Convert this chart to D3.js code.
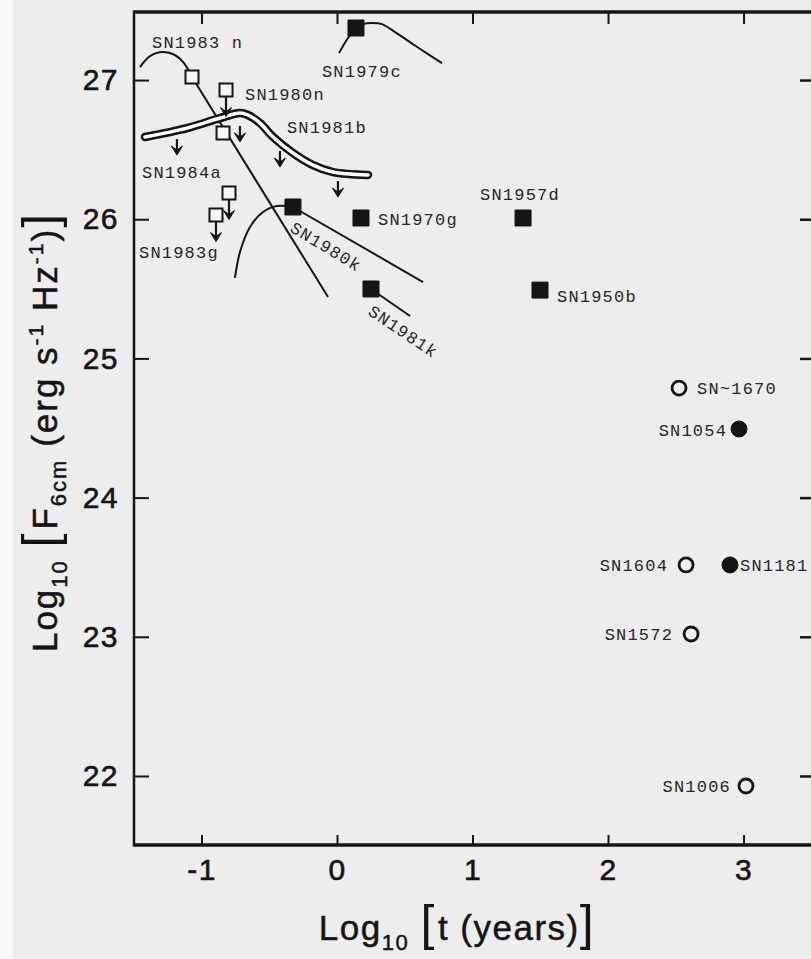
<!DOCTYPE html>
<html><head><meta charset="utf-8">
<script src="https://cdn.jsdelivr.net/npm/d3@7"></script>
<style>
html,body{margin:0;padding:0;background:#ededed;}
svg{display:block;}
</style></head><body>
<svg id="chart" width="811" height="959"></svg>
<script>
// Radio luminosity at 6 cm of supernovae and young remnants versus age

// Individual measurements (log10 age in years, log10 luminosity)
const pointName = ["SN1979c","SN1983n","SN1983n","SN1980n","SN1984a","SN1983g","SN1980k","SN1981k","SN1970g","SN1957d","SN1950b","SN~1670","SN1054","SN1604","SN1181","SN1572","SN1006"];
const pointLogT = [0.140,-1.070,-0.841,-0.819,-0.797,-0.893,-0.325,0.251,0.177,1.373,1.498,2.524,2.967,2.576,2.900,2.613,3.018];
const pointLogF = [27.374,27.022,26.619,26.928,26.188,26.030,26.088,25.499,26.009,26.009,25.491,24.787,24.493,23.516,23.516,23.020,21.928];
const pointKind = ["II","I","I","I","I","I","II","II","II","II","II","shell","plerion","shell","plerion","shell","shell"];
const pointUpperLimit = [0,0,0,1,1,1,0,0,0,0,0,0,0,0,0,0,0];

// Light curves
const lc1979cT = [0.015,0.081,0.140,0.192,0.258,0.332,0.428,0.539,0.649,0.775];
const lc1979cF = [27.194,27.302,27.374,27.402,27.410,27.402,27.345,27.273,27.201,27.122];
const lc1983nT = [-1.454,-1.380,-1.284,-1.196,-1.129,-1.070];
const lc1983nF = [27.093,27.172,27.201,27.180,27.122,27.022];
const decay1983nT = [-1.070,-0.066];
const decay1983nF = [27.022,25.441];
const lc1980kT = [-0.753,-0.716,-0.642,-0.546,-0.443,-0.325];
const lc1980kF = [25.578,25.764,25.944,26.052,26.095,26.088];
const decay1980kT = [-0.325,0.635];
const decay1980kF = [26.088,25.549];
const decay1981kT = [0.251,0.539];
const decay1981kF = [25.499,25.305];

// SN1981b model band and its upper limits
const band1981bT = [-1.417,-1.107,-0.863,-0.716,-0.657,-0.568,-0.472,-0.325,-0.177,-0.030,0.229];
const band1981bF = [26.591,26.655,26.727,26.763,26.749,26.691,26.591,26.476,26.389,26.339,26.318];
const limit1981bT = [-1.181,-0.716,-0.421,0.007];
const limit1981bF = [26.576,26.670,26.490,26.274];

// Axis ticks
const xTicks = [-1,0,1,2,3];
const yTicks = [22,23,24,25,26,27];

// Label placement relative to each mark
const labelLayout = {
  "SN1979c": {dx:-34, dy:49},
  "SN1983n": {dx:-40, dy:-29, text:"SN1983 n"},
  "SN1980n": {dx:19, dy:10},
  "SN1984a": {dx:-87, dy:-15},
  "SN1983g": {dx:-77, dy:43},
  "SN1980k": {dx:-4, dy:24, rotate:31},
  "SN1981k": {dx:-4, dy:25, rotate:34},
  "SN1970g": {dx:17, dy:7},
  "SN1957d": {dx:-43, dy:-18},
  "SN1950b": {dx:17, dy:12},
  "SN~1670": {dx:18, dy:6},
  "SN1054": {dx:-12, dy:7, anchor:"end"},
  "SN1604": {dx:-18, dy:6, anchor:"end"},
  "SN1181": {dx:10, dy:6},
  "SN1572": {dx:-18, dy:6, anchor:"end"},
  "SN1006": {dx:-15, dy:6, anchor:"end"}
};

const W = 811, H = 959;
const ink = "#151515";
const paper = "#ededed";
const sansFont = "'Liberation Sans', Arial, Helvetica, sans-serif";
const monoFont = "'Liberation Mono', 'Courier New', monospace";

const svg = d3.select("#chart");
svg.append("rect").attr("width", W).attr("height", H).attr("fill", paper);
svg.append("rect").attr("width", 13).attr("height", H).attr("fill", "#f9f9f9");

const plotLeft = 134, plotRight = 814, plotTop = 12, plotBottom = 845;
const x = d3.scaleLinear().domain([-1.498, 3.52]).range([plotLeft, plotRight]);
const y = d3.scaleLinear().domain([21.504, 27.489]).range([plotBottom, plotTop]);

// Axes with inward ticks
function styleAxis(g, width) {
  g.select(".domain").remove();
  g.selectAll(".tick line").attr("stroke", ink).attr("stroke-width", width);
  g.selectAll(".tick text").attr("fill", ink).attr("font-family", sansFont)
    .attr("font-size", 30).attr("font-weight", "normal").attr("letter-spacing", 1.5)
    .attr("stroke", ink).attr("stroke-width", 0.6);
}
const gL = svg.append("g").attr("transform", `translate(${plotLeft},0)`)
  .call(d3.axisLeft(y).tickValues(yTicks).tickSize(-15).tickPadding(15).tickFormat(d => String(d)));
styleAxis(gL, 2);
const gB = svg.append("g").attr("transform", `translate(0,${plotBottom})`)
  .call(d3.axisBottom(x).tickValues(xTicks).tickSize(-10).tickPadding(14).tickFormat(d => String(d)));
styleAxis(gB, 2);
const gT = svg.append("g").attr("transform", `translate(0,${plotTop})`)
  .call(d3.axisTop(x).tickValues(xTicks).tickSize(-12).tickFormat(""));
styleAxis(gT, 2);
const gR = svg.append("g").attr("transform", `translate(${plotRight},0)`)
  .call(d3.axisRight(y).tickValues(yTicks).tickSize(-14).tickFormat(""));
styleAxis(gR, 2.5);

// Frame
svg.append("line").attr("x1", plotLeft).attr("x2", W + 5).attr("y1", plotTop).attr("y2", plotTop)
  .attr("stroke", ink).attr("stroke-width", 3.5);
svg.append("line").attr("x1", plotLeft).attr("x2", W + 5).attr("y1", plotBottom).attr("y2", plotBottom)
  .attr("stroke", ink).attr("stroke-width", 3.5);
svg.append("line").attr("x1", plotLeft).attr("x2", plotLeft).attr("y1", plotTop - 1.5).attr("y2", plotBottom + 1.5)
  .attr("stroke", ink).attr("stroke-width", 2.5);

const zip = (ts, fs) => ts.map((t, i) => [t, fs[i]]);
const smooth = d3.line().x(d => x(d[0])).y(d => y(d[1])).curve(d3.curveCatmullRom.alpha(0.5));
const straight = d3.line().x(d => x(d[0])).y(d => y(d[1]));

const plot = svg.append("g");

// Light curves and decay lines
[[lc1979cT, lc1979cF, smooth], [lc1983nT, lc1983nF, smooth], [decay1983nT, decay1983nF, straight],
 [lc1980kT, lc1980kF, smooth], [decay1980kT, decay1980kF, straight], [decay1981kT, decay1981kF, straight]]
  .forEach(([ts, fs, gen]) => {
    plot.append("path").attr("d", gen(zip(ts, fs)))
      .attr("fill", "none").attr("stroke", ink).attr("stroke-width", 2);
  });

// SN1981b band: outlined hollow tube
const bandPath = smooth(zip(band1981bT, band1981bF));
plot.append("path").attr("d", bandPath).attr("fill", "none")
  .attr("stroke", ink).attr("stroke-width", 8.5).attr("stroke-linecap", "round");
plot.append("path").attr("d", bandPath).attr("fill", "none")
  .attr("stroke", "#fbfbfb").attr("stroke-width", 3.5).attr("stroke-linecap", "round");

// Downward arrow for upper limits
function arrow(px, py, len) {
  const tip = py + len;
  plot.append("path").attr("d", `M${px},${py}V${tip - 4}`)
    .attr("stroke", ink).attr("stroke-width", 2.2).attr("fill", "none");
  plot.append("path")
    .attr("d", `M${px - 5.5},${tip - 9}L${px},${tip}L${px + 5.5},${tip - 9}L${px},${tip - 5}Z`)
    .attr("fill", ink).attr("stroke", ink).attr("stroke-width", 1);
}
limit1981bT.forEach((t, i) => arrow(x(t), y(limit1981bF[i]), 16));

// Markers
const sqSize = {I: 13, II: 16};
pointName.forEach((name, i) => {
  const px = x(pointLogT[i]), py = y(pointLogF[i]);
  const kind = pointKind[i];
  if (kind === "I" || kind === "II") {
    const s = sqSize[kind];
    if (pointUpperLimit[i]) arrow(px, py + s / 2, 20);
    plot.append("path")
      .attr("d", d3.symbol(d3.symbolSquare, s * s)())
      .attr("transform", `translate(${px},${py})`)
      .attr("fill", kind === "II" ? ink : "#f6f6f6")
      .attr("stroke", ink).attr("stroke-width", kind === "II" ? 1 : 2);
  } else {
    const open = kind === "shell";
    plot.append("circle").attr("cx", px).attr("cy", py)
      .attr("r", open ? 7 : 8)
      .attr("fill", open ? "none" : ink)
      .attr("stroke", ink).attr("stroke-width", open ? 2.8 : 1);
  }
});

// Typewritten labels
const labelG = svg.append("g").attr("font-family", monoFont).attr("font-size", 17)
  .attr("fill", "#262626").attr("letter-spacing", 1.2);
const seen = new Set();
pointName.forEach((name, i) => {
  if (seen.has(name)) return;
  seen.add(name);
  const L = labelLayout[name];
  const px = x(pointLogT[i]) + L.dx, py = y(pointLogF[i]) + L.dy;
  labelG.append("text")
    .attr("transform", `translate(${px},${py})` + (L.rotate ? ` rotate(${L.rotate})` : ""))
    .attr("text-anchor", L.anchor || "start")
    .text(L.text || name);
});
labelG.append("text")
  .attr("x", x(band1981bT[3]) + 47).attr("y", y(band1981bF[3]) + 20)
  .text("SN1981b");

// Axis titles
const xTitle = svg.append("text").attr("x", 457).attr("y", 940)
  .attr("text-anchor", "middle").attr("font-family", sansFont).attr("font-size", 35)
  .attr("letter-spacing", 1.5)
  .attr("fill", ink).attr("stroke", ink).attr("stroke-width", 0.5);
xTitle.append("tspan").text("Log");
xTitle.append("tspan").attr("font-size", 22).attr("dy", 10).text("10");
xTitle.append("tspan").attr("dy", -10).text(" ");
xTitle.append("tspan").attr("font-size", 50).attr("stroke-width", 0).text("[");
xTitle.append("tspan").attr("dx", 2).text("t (years)");
xTitle.append("tspan").attr("font-size", 50).attr("stroke-width", 0).text("]");

const yTitle = svg.append("text").attr("transform", "translate(57,432) rotate(-90)")
  .attr("text-anchor", "middle").attr("font-family", sansFont).attr("font-size", 35)
  .attr("letter-spacing", 2)
  .attr("fill", ink).attr("stroke", ink).attr("stroke-width", 0.5);
yTitle.append("tspan").text("Log");
yTitle.append("tspan").attr("font-size", 22).attr("dy", 10).text("10");
yTitle.append("tspan").attr("dy", -10).text(" ");
yTitle.append("tspan").attr("font-size", 50).attr("stroke-width", 0).text("[");
yTitle.append("tspan").attr("dx", 2).text("F");
yTitle.append("tspan").attr("font-size", 22).attr("dy", 9).text("6cm");
yTitle.append("tspan").attr("dy", -9).text(" (erg s");
yTitle.append("tspan").attr("font-size", 21).attr("dy", -14).text("-1");
yTitle.append("tspan").attr("dy", 14).text("  Hz");
yTitle.append("tspan").attr("font-size", 21).attr("dy", -14).text("-1");
yTitle.append("tspan").attr("dy", 14).text(")");
yTitle.append("tspan").attr("font-size", 50).attr("stroke-width", 0).text("]");
</script>
</body></html>
